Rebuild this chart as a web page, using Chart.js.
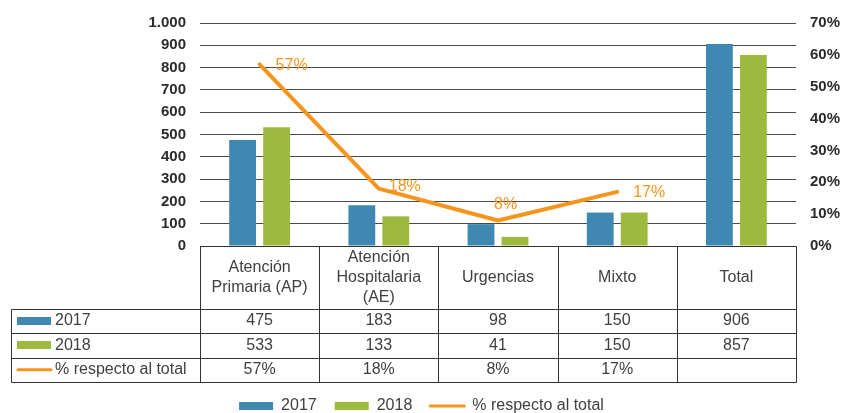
<!DOCTYPE html>
<html lang="es">
<head>
<meta charset="UTF-8">
<title>Atención por ámbito 2017-2018</title>
<script src="https://cdn.jsdelivr.net/npm/chart.js"></script>
<style>
    html, body { margin: 0; padding: 0; background: #fff; overflow: hidden; }
    .wrap { position: relative; width: 843px; height: 424px; }
</style>
</head>
<body>
<div class="wrap"><canvas id="chart"></canvas></div>
<script>
// data
const categories = [['Atención', 'Primaria (AP)'], ['Atención', 'Hospitalaria', '(AE)'], 'Urgencias', 'Mixto', 'Total'];
const values2017 = [475, 183, 98, 150, 906];
const values2018 = [533, 133, 41, 150, 857];
const pctOfTotal = [57, 18, 8, 17, null];
const leftAxis = { max: 1000, step: 100 };
const rightAxis = { max: 70, step: 10 };

const BLUE = '#3f88b1';
const GREEN = '#9dba3e';
const ORANGE = '#f7941d';
const TEXT = '#404040';
const FONT = 'Liberation Sans, Arial, sans-serif';

Chart.defaults.font.family = FONT;
Chart.defaults.animation = false;

function thousands(v) {
    return String(v).replace(/\B(?=(\d{3})+(?!\d))/g, '.');
}

// labels next to the line points (dx, dy from the point)
const pctLabelOffsets = [[16, 1], [10, -2], [-4, -16], [16, 1]];

const pctLabels = {
    id: 'pctLabels',
    afterDatasetsDraw(chart) {
        const ctx = chart.ctx;
        const meta = chart.getDatasetMeta(2);
        ctx.save();
        ctx.font = '16px ' + FONT;
        ctx.fillStyle = ORANGE;
        ctx.textAlign = 'left';
        ctx.textBaseline = 'middle';
        meta.data.forEach((pt, i) => {
            const v = chart.data.datasets[2].data[i];
            if (v == null) return;
            const off = pctLabelOffsets[i] || [16, 0];
            ctx.fillText(v + '%', pt.x + off[0], pt.y + off[1]);
        });
        ctx.restore();
    }
};

// data table under the plot, columns follow the x scale
const dataTable = {
    id: 'dataTable',
    afterDraw(chart) {
        const { ctx, chartArea, scales: { x } } = chart;
        const labels = chart.data.labels;
        const n = labels.length;
        const colW = (chartArea.right - chartArea.left) / n;
        const top = chartArea.bottom;
        const headBottom = top + 62.5;
        const rowH = 24.5;
        const tableLeft = 11;
        const sets = chart.data.datasets;
        const bottom = headBottom + rowH * sets.length;
        const px = v => Math.round(v) + 0.5;

        ctx.save();
        ctx.strokeStyle = '#333';
        ctx.lineWidth = 1;
        ctx.beginPath();
        // horizontal lines
        ctx.moveTo(px(chartArea.left), px(top));
        ctx.lineTo(px(chartArea.right), px(top));
        for (let r = 0; r <= sets.length; r++) {
            const y = px(headBottom + r * rowH);
            ctx.moveTo(px(tableLeft), y);
            ctx.lineTo(px(chartArea.right), y);
        }
        // vertical lines
        for (let i = 0; i <= n; i++) {
            const xx = px(chartArea.left + i * colW);
            ctx.moveTo(xx, px(top));
            ctx.lineTo(xx, px(bottom));
        }
        ctx.moveTo(px(tableLeft), px(headBottom));
        ctx.lineTo(px(tableLeft), px(bottom));
        ctx.stroke();

        ctx.font = '16px ' + FONT;
        ctx.fillStyle = TEXT;
        ctx.textAlign = 'center';
        ctx.textBaseline = 'middle';

        // header = category names
        labels.forEach((lab, i) => {
            const lines = Array.isArray(lab) ? lab : [lab];
            const cx = x.getPixelForValue(i);
            const y0 = (top + headBottom) / 2 - (lines.length - 1) * 10;
            lines.forEach((t, k) => ctx.fillText(t, cx, y0 + k * 20));
        });

        // one row per dataset
        sets.forEach((ds, r) => {
            const yc = headBottom + rowH * (r + 0.5);
            if (ds.type === 'line') {
                ctx.save();
                ctx.strokeStyle = ds.borderColor;
                ctx.lineWidth = 3;
                ctx.lineCap = 'round';
                ctx.beginPath();
                ctx.moveTo(18, yc);
                ctx.lineTo(51, yc);
                ctx.stroke();
                ctx.restore();
            } else {
                ctx.fillStyle = ds.backgroundColor;
                ctx.fillRect(17, Math.round(yc) - 4, 34, 8);
            }
            ctx.fillStyle = TEXT;
            ctx.textAlign = 'left';
            ctx.fillText(ds.label, 55, yc);
            ctx.textAlign = 'center';
            ds.data.forEach((v, i) => {
                if (v == null) return;
                const txt = ds.type === 'line' ? v + '%' : thousands(v);
                ctx.fillText(txt, x.getPixelForValue(i), yc);
            });
        });
        ctx.restore();
    }
};

new Chart(document.getElementById('chart'), {
    type: 'bar',
    data: {
        labels: categories,
        datasets: [
            {
                label: '2017',
                data: values2017,
                backgroundColor: BLUE,
                yAxisID: 'y',
                categoryPercentage: 0.57,
                barPercentage: 0.79
            },
            {
                label: '2018',
                data: values2018,
                backgroundColor: GREEN,
                yAxisID: 'y',
                categoryPercentage: 0.57,
                barPercentage: 0.79
            },
            {
                type: 'line',
                label: '% respecto al total',
                data: pctOfTotal,
                borderColor: ORANGE,
                backgroundColor: ORANGE,
                borderWidth: 4,
                borderCapStyle: 'round',
                borderJoinStyle: 'round',
                pointRadius: 0,
                tension: 0,
                yAxisID: 'y1'
            }
        ]
    },
    options: {
        responsive: true,
        maintainAspectRatio: false,
        layout: { padding: { top: 22, left: 0, right: 0, bottom: 0 } },
        plugins: {
            tooltip: { enabled: false },
            legend: {
                position: 'bottom',
                labels: {
                    usePointStyle: true,
                    pointStyleWidth: 34,
                    boxHeight: 8,
                    padding: 18,
                    color: TEXT,
                    font: { size: 16 },
                    generateLabels(chart) {
                        const items = Chart.defaults.plugins.legend.labels.generateLabels(chart);
                        items.forEach(it => {
                            const ds = chart.data.datasets[it.datasetIndex];
                            if (ds.type === 'line') {
                                it.pointStyle = 'line';
                                it.lineWidth = 3;
                                it.lineCap = 'round';
                            } else {
                                it.pointStyle = 'rect';
                                it.lineWidth = 0;
                            }
                        });
                        return items;
                    }
                }
            }
        },
        scales: {
            x: {
                grid: { display: false },
                border: { display: false },
                ticks: { display: false },
                afterFit(scale) { scale.height = 134; }
            },
            y: {
                position: 'left',
                min: 0,
                max: leftAxis.max,
                ticks: {
                    stepSize: leftAxis.step,
                    padding: 14,
                    color: '#2b2b2b',
                    font: { size: 15, weight: 'bold' },
                    callback: v => thousands(v)
                },
                grid: { color: '#4a4a4a', lineWidth: 1, drawTicks: false },
                border: { display: false },
                afterFit(scale) { scale.width = 200; }
            },
            y1: {
                position: 'right',
                min: 0,
                max: rightAxis.max,
                ticks: {
                    stepSize: rightAxis.step,
                    padding: 14,
                    color: '#2b2b2b',
                    font: { size: 15, weight: 'bold' },
                    callback: v => v + '%'
                },
                grid: { display: false, drawTicks: false },
                border: { display: false },
                afterFit(scale) { scale.width = 47; }
            }
        }
    },
    plugins: [pctLabels, dataTable]
});
</script>
</body>
</html>
